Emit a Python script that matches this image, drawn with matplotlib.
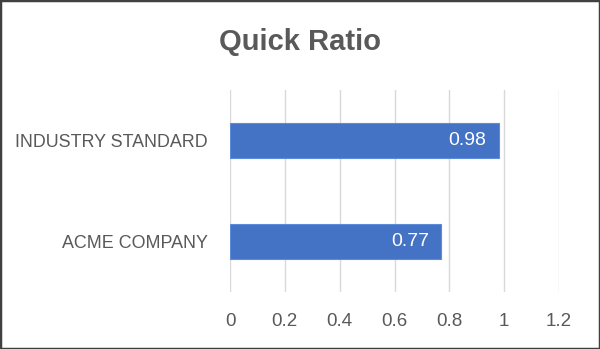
import matplotlib
matplotlib.use("Agg")
import matplotlib.pyplot as plt
from matplotlib.patches import Rectangle

# dados do grafico
categorias = ["ACME COMPANY", "INDUSTRY STANDARD"]
valores = [0.77, 0.98]
ticks_x = [0, 0.2, 0.4, 0.6, 0.8, 1.0, 1.2]
rotulos_x = ["0", "0.2", "0.4", "0.6", "0.8", "1", "1.2"]

plt.rcParams["font.family"] = ["Liberation Sans", "DejaVu Sans"]
cinza = "#595959"

fig = plt.figure(figsize=(6, 3.49), dpi=100)
ax = fig.add_axes([230 / 600, 1 - 292 / 349, 329 / 600, 202 / 349])

barras = ax.barh(categorias, valores, height=0.35, color="#4472C4",
                 edgecolor="#5B8BD9", linewidth=0.8, zorder=3)

for b, v in zip(barras, valores):
    ax.text(b.get_width() - 0.045, b.get_y() + b.get_height() / 2, f"{v:.2f}",
            ha="right", va="center", color="white", fontsize=14)

ax.set_xlim(0, 1.2)
ax.set_ylim(-0.5, 1.5)
ax.set_xticks(ticks_x)
ax.set_xticklabels(rotulos_x)
ax.grid(axis="x", color="#D9D9D9", linewidth=1, zorder=0)
ax.tick_params(axis="both", length=0, colors=cinza)
ax.tick_params(axis="x", pad=15, labelsize=13.5)
ax.tick_params(axis="y", pad=16, labelsize=12.9)
for s in ax.spines.values():
    s.set_visible(False)

fig.text(0.5, 1 - 42 / 349, "Quick Ratio", ha="center", va="center",
         fontsize=21, fontweight="bold", color=cinza)

fig.patches.append(Rectangle((0, 0), 1, 1, transform=fig.transFigure,
                             fill=False, edgecolor="#404040", linewidth=2.5))

fig.savefig("out.png", dpi=100)
